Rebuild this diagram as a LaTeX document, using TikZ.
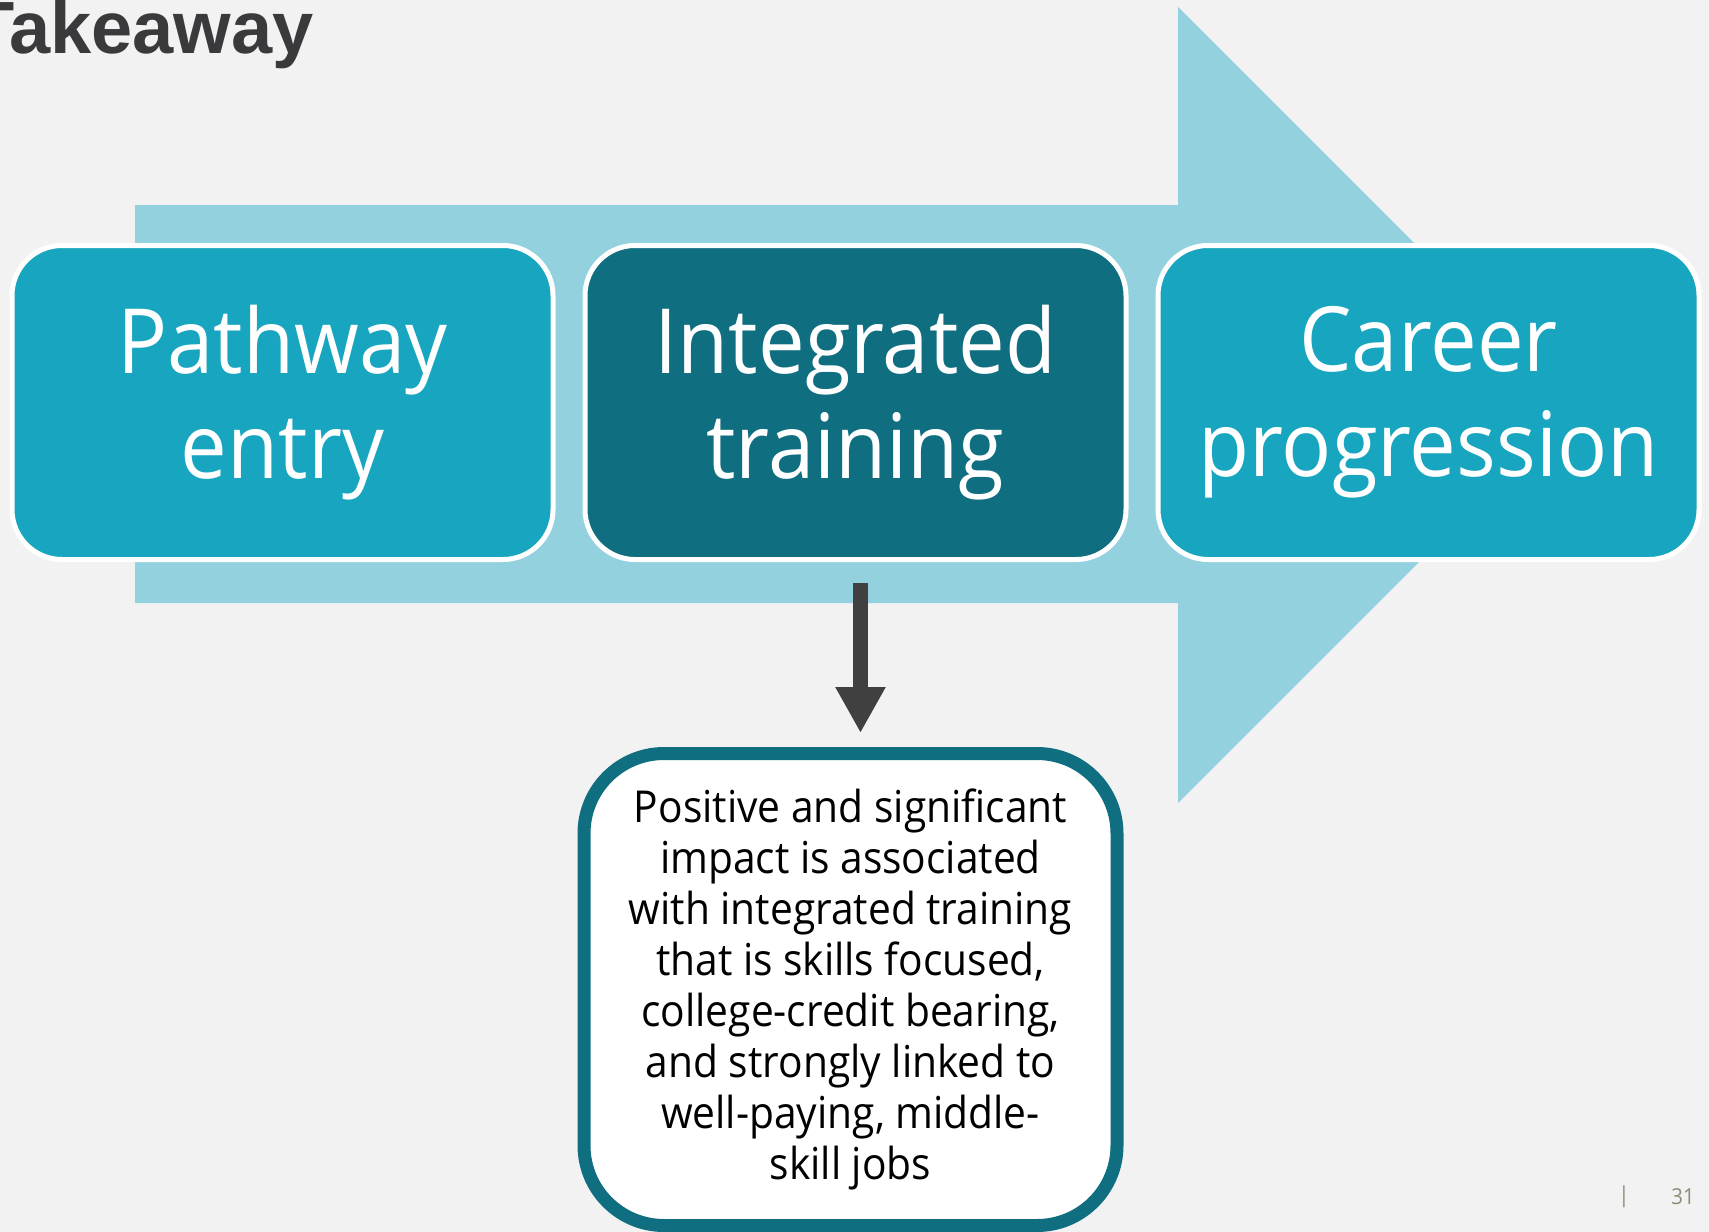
\documentclass[tikz,border=0pt]{standalone}
\usepackage{fontspec}
\setmainfont{Open Sans}[FakeStretch=0.925]
\newfontfamily\headfont{Liberation Sans}
\usetikzlibrary{positioning,arrows.meta}

\definecolor{paper}{HTML}{F2F2F2}
\definecolor{flowlight}{HTML}{93D1DE}
\definecolor{stageteal}{HTML}{17A5BF}
\definecolor{stagedark}{HTML}{0F6E7F}
\definecolor{pointer}{HTML}{404040}
\definecolor{headgray}{HTML}{3A3A3C}
\definecolor{pagegray}{HTML}{8F8C78}

\begin{document}
\begin{tikzpicture}[x=1pt, y=-1pt, node distance=27pt,
    stage/.style={draw=white, line width=5pt, fill=stageteal, rounded corners=50pt,
      minimum width=541pt, minimum height=314pt, inner sep=0pt, align=center,
      text=white, font=\fontsize{90}{105}\selectfont},
    notebox/.style={draw=stagedark, line width=13pt, fill=white, rounded corners=80pt,
      minimum width=533pt, minimum height=472pt, inner sep=0pt, align=center,
      font=\fontsize{44}{51}\selectfont}]
  \useasboundingbox[fill=paper] (0,0) rectangle (1709,1232);

  % broad arrow behind the three stages
  \fill[flowlight] (135,205) -- (1178,205) -- (1178,7) -- (1576,405)
    -- (1178,803) -- (1178,603) -- (135,603) -- cycle;

  \node[anchor=base west, text=headgray, font=\headfont\bfseries\fontsize{74}{80}\selectfont] (title) at (-34,53) {Takeaway};

  \node[stage] (entry) at (282.5,402.5) {Pathway\\entry};
  \node[stage, fill=stagedark, right=of entry] (train) {Integrated\\training};
  \node[stage, right=of train] (career) {Career\\progression};

  \node[notebox, below=185pt of train, xshift=-5pt] (note)
    {Positive and significant\\impact is associated\\with integrated training\\that is skills focused,\\college-credit bearing,\\and strongly linked to\\well-paying, middle-\\skill jobs};

  \draw[pointer, line width=15pt, shorten <=21pt, shorten >=14pt, -{Triangle[width=47pt,length=46pt]}]
    ([xshift=5pt]train.south) -- ([xshift=5pt]train.south |- note.north);

  \node[text=pagegray, font=\fontsize{22}{26}\selectfont] (bar) at (1624,1197) {|};
  \node[text=pagegray, font=\fontsize{22}{26}\selectfont] (pnum) at (1683,1197) {31};
\end{tikzpicture}
\end{document}
